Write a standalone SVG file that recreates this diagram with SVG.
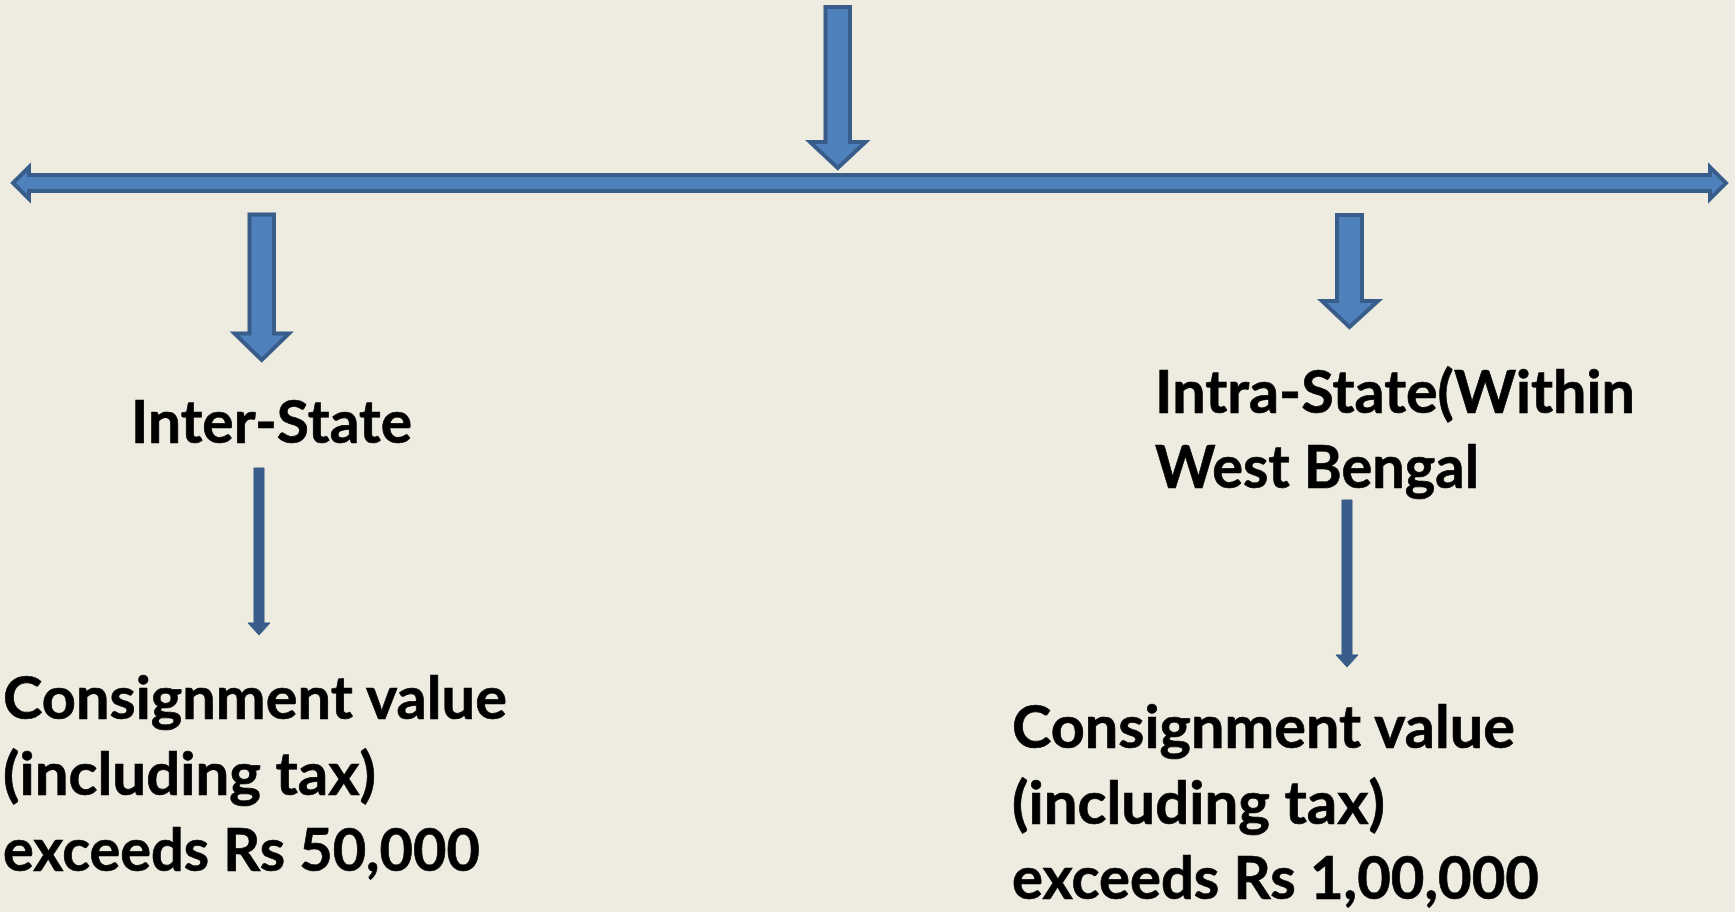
<svg xmlns="http://www.w3.org/2000/svg" width="1735" height="912" viewBox="0 0 1735 912">
<style>
.bg{fill:#EEECE1}
.blk{fill:#4F81BD;stroke:#385D8A;stroke-width:4;stroke-linejoin:miter}
.thin{fill:#385D8A;stroke:#385D8A;stroke-width:1}
.t{font-family:Lato,"Open Sans","Liberation Sans",sans-serif;font-weight:700;font-size:59px;fill:#000;stroke:#000;stroke-width:0.7}
</style>
<rect class="bg" x="0" y="0" width="1735" height="912"/>
<g id="connectors">
<path id="arrow-top" class="blk" d="M825.5,7 H850 V142 H865.5 L837.75,168 L810,142 H825.5 Z"/>
<path id="arrow-horizontal" class="blk" d="M13,183 L29,167 V175 H1710 V167 L1726,183 L1710,199 V191 H29 V199 Z"/>
<path id="arrow-left-down" class="blk" d="M249.5,214.5 H274 V333.5 H289 L261.75,360 L234.5,333.5 H249.5 Z"/>
<path id="arrow-right-down" class="blk" d="M1337,215 H1362 V301 H1378 L1349.5,327 L1322,301 H1337 Z"/>
<path id="arrow-left-thin" class="thin" d="M254,468 H264 V623 H270 L259,635 L248,623 H254 Z"/>
<path id="arrow-right-thin" class="thin" d="M1342,500 H1352 V655 H1358 L1347,667 L1336,655 H1342 Z"/>
</g>
<g id="node-inter-state">
<text class="t" x="131" y="443" textLength="281" lengthAdjust="spacingAndGlyphs">Inter-State</text>
</g>
<g id="node-intra-state">
<text class="t" x="1155" y="413" textLength="480" lengthAdjust="spacingAndGlyphs">Intra-State(Within</text>
<text class="t" x="1155" y="488" textLength="324" lengthAdjust="spacingAndGlyphs">West Bengal</text>
</g>
<g id="node-inter-condition">
<text class="t" x="3" y="719" textLength="504" lengthAdjust="spacingAndGlyphs">Consignment value</text>
<text class="t" x="3" y="795" textLength="373" lengthAdjust="spacingAndGlyphs">(including tax)</text>
<text class="t" x="3" y="871" textLength="477" lengthAdjust="spacingAndGlyphs">exceeds Rs 50,000</text>
</g>
<g id="node-intra-condition">
<text class="t" x="1012" y="748" textLength="503" lengthAdjust="spacingAndGlyphs">Consignment value</text>
<text class="t" x="1012" y="824" textLength="373" lengthAdjust="spacingAndGlyphs">(including tax)</text>
<text class="t" x="1012" y="899" textLength="527" lengthAdjust="spacingAndGlyphs">exceeds Rs 1,00,000</text>
</g>
</svg>
